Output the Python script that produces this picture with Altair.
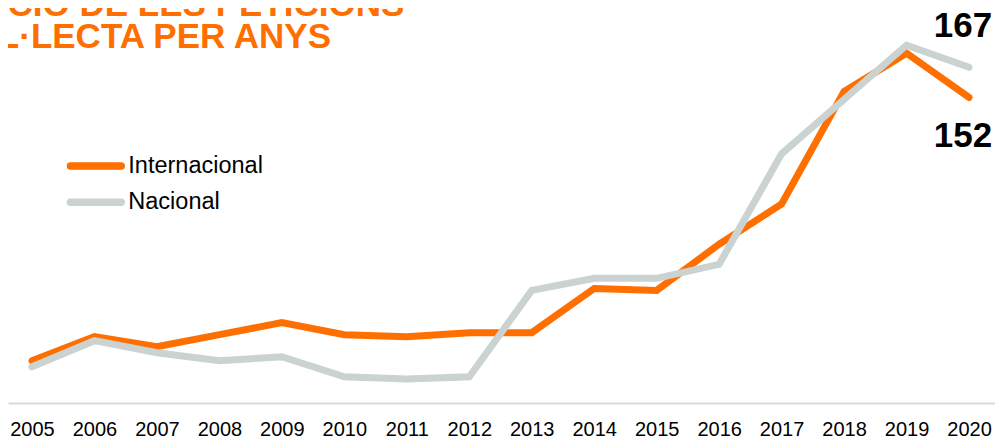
import altair as alt
import pandas as pd

years = list(range(2005, 2021))
internacional = [21, 33, 28, 34, 40, 34, 33, 35, 35, 57, 56, 79, 99, 155, 174, 152]
nacional = [18, 31, 25, 21, 23, 13, 12, 13, 56, 62, 62, 69, 124, 151, 178, 167]
series_names = ["Internacional", "Nacional"]
series_colors = ["#FF6F00", "#CBD2D2"]
title_lines = ["EVOLUCIÓ DE LES PETICIONS", "DE COL·LECTA PER ANYS"]
end_labels = ["167", "152"]

rows = []
for i, y in enumerate(years):
    rows.append({"year": y, "value": internacional[i], "serie": series_names[0], "order": 0})
    rows.append({"year": y, "value": nacional[i], "serie": series_names[1], "order": 1})
df = pd.DataFrame(rows)

FONT = "Liberation Sans"
color_scale = alt.Scale(domain=series_names, range=series_colors)

x = alt.X("year:Q",
          scale=alt.Scale(domain=[2004.616, 2020.416], nice=False, zero=False),
          axis=alt.Axis(values=years, format="d", title=None, grid=False, ticks=False,
                        domainColor="#D9D9D9", domainWidth=2, labelFontSize=20,
                        labelColor="#000000", labelFont=FONT, labelPadding=16,
                        labelOverlap=False, labelFlush=False))
y = alt.Y("value:Q", scale=alt.Scale(domain=[0, 196.5], nice=False), axis=None)

lines = alt.Chart(df).mark_line(strokeWidth=7, strokeCap="round", strokeJoin="miter").encode(
    x=x, y=y,
    color=alt.Color("serie:N", scale=color_scale, legend=None),
    order=alt.Order("order:Q"),
    detail="serie:N",
)

lab_df = pd.DataFrame({
    "year": [2020, 2020],
    "value": [nacional[-1], internacional[-1]],
    "txt": end_labels,
})
lab_top = alt.Chart(lab_df.iloc[[0]]).mark_text(
    font=FONT, fontSize=35, fontWeight="bold", color="#000000",
    align="center", baseline="alphabetic", dx=-6, dy=-30).encode(x=x, y=y, text="txt:N")
lab_bot = alt.Chart(lab_df.iloc[[1]]).mark_text(
    font=FONT, fontSize=35, fontWeight="bold", color="#000000",
    align="center", baseline="alphabetic", dx=-6, dy=50).encode(x=x, y=y, text="txt:N")

# manual legend
leg_df = pd.DataFrame({"serie": series_names})
leg_y = alt.Y("serie:N", axis=None,
              scale=alt.Scale(type="point", domain=series_names, range=[158, 194.3], padding=0))
leg_sym = alt.Chart(leg_df).mark_rule(strokeWidth=7.5, strokeCap="round").encode(
    x=alt.value(62.5), x2=alt.value(113.2), y=leg_y,
    color=alt.Color("serie:N", scale=color_scale, legend=None))
leg_txt = alt.Chart(leg_df).mark_text(
    font=FONT, fontSize=23.5, color="#000000", align="left", baseline="middle").encode(
    x=alt.value(120.3), y=leg_y, text="serie:N")

title_df = pd.DataFrame({"t": ["\n".join(title_lines)]})
title = alt.Chart(title_df).mark_text(
    font=FONT, fontSize=35, fontWeight="bold", color="#FF6F00",
    align="left", baseline="alphabetic", lineBreak="\n", lineHeight=32).encode(
    x=alt.value(-121), y=alt.value(8), text="t:N")

chart = alt.layer(lines, lab_top, lab_bot, leg_sym, leg_txt, title).resolve_scale(
    y="independent"
).properties(
    width=987, height=395,
    autosize=alt.AutoSizeParams(type="none"),
    padding={"left": 0, "top": 0, "right": 0, "bottom": 35},
    view=alt.ViewBackground(stroke="transparent", strokeWidth=0),
).configure_view(strokeWidth=0, stroke="transparent").configure(background="#FFFFFF")

chart.save("out.html", embed_options={"renderer": "svg", "actions": False})
